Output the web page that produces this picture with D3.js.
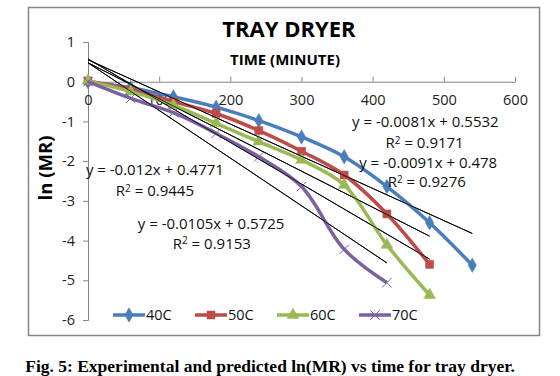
<!DOCTYPE html>
<html>
<head>
<meta charset="utf-8">
<script src="https://cdn.jsdelivr.net/npm/d3@7"></script>
<style>
  body { margin: 0; background: #fff; }
  svg { display: block; }
</style>
</head>
<body>
<div id="chart"></div>
<script>
// data
var times40 = [0, 60, 120, 180, 240, 300, 360, 420, 480, 540];
var lnmr40 = [0, -0.15, -0.38, -0.64, -0.98, -1.39, -1.89, -2.64, -3.55, -4.62];
var times50 = [0, 60, 120, 180, 240, 300, 360, 420, 480];
var lnmr50 = [0.02, -0.2, -0.5, -0.8, -1.23, -1.75, -2.35, -3.33, -4.6];
var times60 = [0, 60, 120, 180, 240, 300, 360, 420, 480];
var lnmr60 = [0.02, -0.25, -0.59, -1.05, -1.51, -1.97, -2.6, -4.11, -5.37];
var times70 = [0, 60, 120, 180, 240, 300, 360, 420];
var lnmr70 = [0, -0.42, -0.78, -1.3, -1.89, -2.64, -4.22, -5.06];

var seriesNames = ['40C', '50C', '60C', '70C'];
var seriesColors = ['#4A7EBB', '#BE4B48', '#98B954', '#7D60A0'];
var slopes = [-0.0081, -0.0091, -0.0105, -0.012];
var intercepts = [0.5532, 0.478, 0.5725, 0.4771];
var eqText = ['y = -0.0081x + 0.5532', 'y = -0.0091x + 0.478', 'y = -0.0105x + 0.5725', 'y = -0.012x + 0.4771'];
var r2Text = ['0.9171', '0.9276', '0.9153', '0.9445'];
// label anchors in data units (x, y of centre)
var eqPos = [[474, -1.01], [478, -2.03], [173, -3.57], [94, -2.22]];
var r2Pos = [[473, -1.54], [476, -2.52], [174, -4.07], [94, -2.75]];

var xTicks = [0, 100, 200, 300, 400, 500, 600];
var yTicks = [1, 0, -1, -2, -3, -4, -5, -6];

var series = [
  {t: times40, v: lnmr40},
  {t: times50, v: lnmr50},
  {t: times60, v: lnmr60},
  {t: times70, v: lnmr70}
];

var width = 560, height = 376;
var font = "'Open Sans', sans-serif";

var svg = d3.select('#chart').append('svg')
    .attr('width', width)
    .attr('height', height);

svg.append('rect')
    .attr('x', 28.5).attr('y', 7.5)
    .attr('width', 511).attr('height', 328)
    .attr('fill', '#fff')
    .attr('stroke', '#868686')
    .attr('stroke-width', 1.5);

var x = d3.scaleLinear().domain([0, 600]).range([88, 515]);
var y = d3.scaleLinear().domain([-6, 1]).range([320, 42]);

// y axis
var yAxis = svg.append('g')
    .attr('transform', 'translate(' + x(0) + ',0)')
    .call(d3.axisLeft(y).tickValues(yTicks).tickSize(5).tickFormat(d3.format('d')));
yAxis.select('.domain').attr('stroke', '#868686');
yAxis.selectAll('.tick line').attr('stroke', '#868686');
yAxis.selectAll('.tick text')
    .attr('font-family', font).attr('font-size', 14.5).attr('fill', '#222')
    .attr('x', -13)
    .text(function(d) { return d < 0 ? '-' + Math.abs(d) : d; });

// x axis along y = 0
var xAxis = svg.append('g')
    .attr('transform', 'translate(0,' + y(0) + ')')
    .call(d3.axisBottom(x).tickValues(xTicks).tickSize(5).tickSizeOuter(0));
xAxis.select('.domain').attr('stroke', '#868686');
xAxis.selectAll('.tick line').attr('stroke', '#868686').attr('y1', -5).attr('y2', 0);
xAxis.selectAll('.tick text')
    .attr('font-family', font).attr('font-size', 14.5).attr('fill', '#222')
    .attr('y', 13);

// trend lines
svg.append('g').selectAll('line').data(series).enter().append('line')
    .attr('x1', x(0))
    .attr('y1', function(d, i) { return y(intercepts[i]); })
    .attr('x2', function(d) { return x(d3.max(d.t)); })
    .attr('y2', function(d, i) { return y(slopes[i] * d3.max(d.t) + intercepts[i]); })
    .attr('stroke', '#000')
    .attr('stroke-width', 1);

var line = d3.line()
    .x(function(d) { return x(d[0]); })
    .y(function(d) { return y(d[1]); })
    .curve(d3.curveCatmullRom.alpha(0.5));

var symbols = [d3.symbolDiamond, d3.symbolSquare, d3.symbolTriangle, d3.symbolX];
var symSizes = [60, 64, 60, 60];

function drawMarker(g, i, px, py) {
  var sym = d3.symbol().type(symbols[i]).size(symSizes[i]);
  var p = g.append('path')
      .attr('d', sym())
      .attr('transform', 'translate(' + px + ',' + py + ')');
  if (i === 3) {
    p.attr('fill', 'none').attr('stroke', seriesColors[i]).attr('stroke-width', 1);
  } else {
    p.attr('fill', seriesColors[i]).attr('stroke', seriesColors[i]).attr('stroke-width', 0.5);
  }
}

series.forEach(function(s, i) {
  var pts = s.t.map(function(t, k) { return [t, s.v[k]]; });
  var g = svg.append('g');
  g.append('path')
      .datum(pts)
      .attr('d', line)
      .attr('fill', 'none')
      .attr('stroke', seriesColors[i])
      .attr('stroke-width', 3.5)
      .attr('stroke-linejoin', 'round');
  pts.forEach(function(p) { drawMarker(g, i, x(p[0]), y(p[1])); });
});

// redraw trend lines over the data lines (thin black on top)
svg.append('g').selectAll('line').data(series).enter().append('line')
    .attr('x1', x(0))
    .attr('y1', function(d, i) { return y(intercepts[i]); })
    .attr('x2', function(d) { return x(d3.max(d.t)); })
    .attr('y2', function(d, i) { return y(slopes[i] * d3.max(d.t) + intercepts[i]); })
    .attr('stroke', '#000')
    .attr('stroke-width', 0.8);

// equation labels
eqText.forEach(function(t, i) {
  svg.append('text')
      .attr('x', x(eqPos[i][0])).attr('y', y(eqPos[i][1]))
      .attr('dy', '0.35em')
      .attr('text-anchor', 'middle')
      .attr('font-family', font).attr('font-size', 15).attr('fill', '#111')
      .text(t);
  var r = svg.append('text')
      .attr('x', x(r2Pos[i][0])).attr('y', y(r2Pos[i][1]))
      .attr('dy', '0.35em')
      .attr('text-anchor', 'middle')
      .attr('font-family', font).attr('font-size', 15).attr('fill', '#111');
  r.append('tspan').text('R');
  r.append('tspan').attr('font-size', 10).attr('dy', '-0.45em').text('2');
  r.append('tspan').attr('dy', '0.3em').text(' = ' + r2Text[i]);
});

// titles
svg.append('text')
    .attr('x', 289).attr('y', 37)
    .attr('text-anchor', 'middle')
    .attr('font-family', font).attr('font-weight', 'bold').attr('font-size', 22)
    .attr('fill', '#000')
    .text('TRAY DRYER');
svg.append('text')
    .attr('x', 285).attr('y', 65)
    .attr('text-anchor', 'middle')
    .attr('font-family', font).attr('font-weight', 'bold').attr('font-size', 15)
    .attr('fill', '#000')
    .text('TIME (MINUTE)');
svg.append('text')
    .attr('transform', 'translate(52,168) rotate(-90)')
    .attr('text-anchor', 'middle')
    .attr('font-family', font).attr('font-weight', 'bold').attr('font-size', 18.5)
    .attr('fill', '#000')
    .text('ln (MR)');

// legend
var legendX = [113, 195, 277, 359];
var legend = svg.append('g');
seriesNames.forEach(function(name, i) {
  var lg = legend.append('g');
  lg.append('line')
      .attr('x1', legendX[i]).attr('x2', legendX[i] + 32)
      .attr('y1', 315).attr('y2', 315)
      .attr('stroke', seriesColors[i]).attr('stroke-width', 3.5);
  drawMarker(lg, i, legendX[i] + 16, 315);
  lg.append('text')
      .attr('x', legendX[i] + 33).attr('y', 315).attr('dy', '0.35em')
      .attr('font-family', font).attr('font-size', 14.5).attr('fill', '#111')
      .text(name);
});

// caption
svg.append('text')
    .attr('x', 270).attr('y', 372)
    .attr('text-anchor', 'middle')
    .attr('font-family', "'Liberation Serif', 'Times New Roman', serif")
    .attr('font-weight', 'bold').attr('font-size', 17.5)
    .attr('fill', '#000')
    .text('Fig. 5: Experimental and predicted ln(MR) vs time for tray dryer.');
</script>
</body>
</html>
